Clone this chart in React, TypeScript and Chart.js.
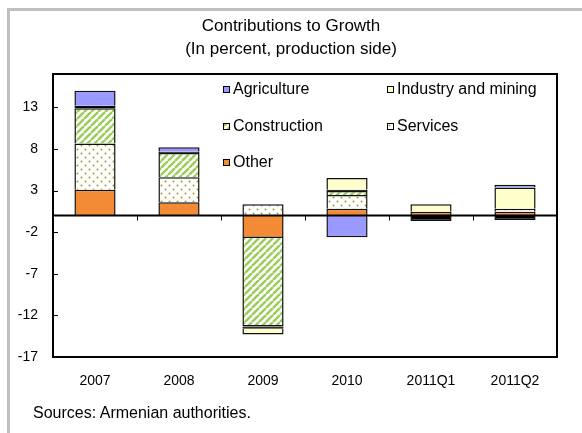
import React, { useEffect, useRef } from 'react';
import { Chart, registerables } from 'chart.js';
Chart.register(...registerables);

const categories = ['2007', '2008', '2009', '2010', '2011Q1', '2011Q2'];
const other = [3.1, 1.6, -2.7, 0.8, 0.45, 0.45];
const services = [5.55, 3.0, 1.35, 1.65, 0, 0.35];
const construction = [4.25, 2.9, -10.65, 0.5, 0, 0];
const residual = [0.28, 0.15, -0.25, 0.15, -0.65, -0.55];
const industry = [0, 0, -0.7, 1.4, 0.9, 2.55];
const agriculture = [1.8, 0.55, 0, -2.6, 0, 0.35];
const yTicks = [-17, -12, -7, -2, 3, 8, 13];
const yMin = -17;
const yMax = 17;

const FONT = "'Liberation Sans', Arial, sans-serif";

function stripePattern(ctx: CanvasRenderingContext2D) {
  const s = 7;
  const c = document.createElement('canvas');
  c.width = s; c.height = s;
  const g = c.getContext('2d')!;
  g.fillStyle = '#ffffff';
  g.fillRect(0, 0, s, s);
  g.strokeStyle = '#9ACD55';
  g.lineWidth = 2.4;
  g.beginPath();
  for (const o of [-s, 0, s]) {
    g.moveTo(o, s);
    g.lineTo(o + s, 0);
  }
  g.stroke();
  return ctx.createPattern(c, 'repeat')!;
}

function dotPattern(ctx: CanvasRenderingContext2D) {
  const c = document.createElement('canvas');
  c.width = 8; c.height = 8;
  const g = c.getContext('2d')!;
  g.fillStyle = '#ffffff';
  g.fillRect(0, 0, 8, 8);
  g.fillStyle = '#9C9C30';
  g.beginPath(); g.arc(1.5, 1.5, 1, 0, Math.PI * 2); g.fill();
  g.beginPath(); g.arc(5.5, 5.5, 1, 0, Math.PI * 2); g.fill();
  return ctx.createPattern(c, 'repeat')!;
}

export default function App() {
  const ref = useRef<HTMLCanvasElement>(null);
  useEffect(() => {
    const canvas = ref.current!;
    const ctx = canvas.getContext('2d')!;
    const stripes = stripePattern(ctx);
    const dots = dotPattern(ctx);
    const colors: Record<string, any> = {
      Agriculture: '#9999FF',
      'Industry and mining': '#FFFFCC',
      Construction: stripes,
      Services: dots,
      Other: '#F28A36',
    };
    const legendLayout = [
      { label: 'Agriculture', col: 0, row: 0 },
      { label: 'Industry and mining', col: 1, row: 0 },
      { label: 'Construction', col: 0, row: 1 },
      { label: 'Services', col: 1, row: 1 },
      { label: 'Other', col: 0, row: 2 },
    ];
    const framePlugin = {
      id: 'frame',
      afterDatasetsDraw(chart: any) {
        const c = chart.ctx;
        const { left, right, top, bottom } = chart.chartArea;
        const y = chart.scales.y;
        c.save();
        c.strokeStyle = '#000';
        c.lineWidth = 1;
        for (const v of yTicks) {
          const py = Math.round(y.getPixelForValue(v)) + 0.5;
          c.beginPath(); c.moveTo(left, py); c.lineTo(left + 5, py); c.stroke();
        }
        const zy = y.getPixelForValue(0);
        const n = categories.length;
        const w = (right - left) / n;
        for (let i = 1; i < n; i++) {
          const px = Math.round(left + i * w) + 0.5;
          c.beginPath(); c.moveTo(px, zy); c.lineTo(px, zy + 5); c.stroke();
        }
        c.lineWidth = 2;
        c.beginPath(); c.moveTo(left, zy); c.lineTo(right, zy); c.stroke();
        c.strokeRect(left, top, right - left, bottom - top);
        c.font = `16px ${FONT}`;
        c.textBaseline = 'middle';
        const colX = [left + 170, left + 334];
        const rowY = [top + 15.5, top + 52.5, top + 88.5];
        for (const it of legendLayout) {
          const x = colX[it.col];
          const cy = rowY[it.row];
          c.fillStyle = colors[it.label];
          c.fillRect(x, cy - 3.5, 7, 7);
          c.lineWidth = 1;
          c.strokeStyle = '#000';
          c.strokeRect(x + 0.5, cy - 3.5 + 0.5, 6, 6);
          c.fillStyle = '#000';
          c.fillText(it.label, x + 10, cy + 0.5);
        }
        c.restore();
      },
    };
    const mk = (label: string, data: number[], bg: any) => ({
      label, data, backgroundColor: bg, borderColor: '#111', borderWidth: 1.5,
      stack: 's', barPercentage: 0.49, categoryPercentage: 1,
    });
    const chart = new Chart(canvas, {
      type: 'bar',
      data: {
        labels: categories,
        datasets: [
          mk('Other', other, colors['Other']),
          mk('Services', services, dots),
          mk('Construction', construction, stripes),
          mk('Residual', residual, '#000000'),
          mk('Industry and mining', industry, colors['Industry and mining']),
          mk('Agriculture', agriculture, colors['Agriculture']),
        ],
      },
      options: {
        animation: false,
        responsive: false,
        layout: { padding: { left: 0, right: 25, top: 74, bottom: 36 } },
        plugins: { legend: { display: false }, tooltip: { enabled: false }, title: { display: false } },
        scales: {
          x: {
            stacked: true,
            grid: { display: false, drawTicks: false },
            border: { display: false },
            ticks: { color: '#000', font: { family: FONT, size: 14 }, padding: 16 },
            afterFit: (s: any) => { s.height = 40; },
          },
          y: {
            stacked: true,
            min: yMin,
            max: yMax,
            grid: { display: false, drawTicks: false },
            border: { display: false },
            ticks: { color: '#000', font: { family: FONT, size: 14 }, padding: 15 },
            afterBuildTicks: (s: any) => { s.ticks = yTicks.map((v) => ({ value: v })); },
            afterFit: (s: any) => { s.width = 53; },
          },
        },
      },
      plugins: [framePlugin],
    });
    return () => chart.destroy();
  }, []);

  return (
    <div style={{ position: 'fixed', left: 0, top: 0, width: 582, height: 433, background: '#fff', overflow: 'hidden' }}>
      <div style={{ position: 'absolute', left: 7, top: 8, width: 600, height: 440, borderLeft: '3px solid #C0C0C0', borderTop: '3px solid #C0C0C0' }} />
      <canvas ref={ref} width={582} height={433} style={{ position: 'absolute', left: 0, top: 0, display: 'block' }} />
      <div style={{ position: 'absolute', left: 0, top: 14, width: 582, textAlign: 'center', fontFamily: FONT, fontSize: 17, lineHeight: '23px', color: '#000' }}>
        Contributions to Growth<br />(In percent, production side)
      </div>
      <div style={{ position: 'absolute', left: 33, top: 404, fontFamily: FONT, fontSize: 16, color: '#000', whiteSpace: 'nowrap' }}>
        Sources: Armenian authorities.
      </div>
    </div>
  );
}
